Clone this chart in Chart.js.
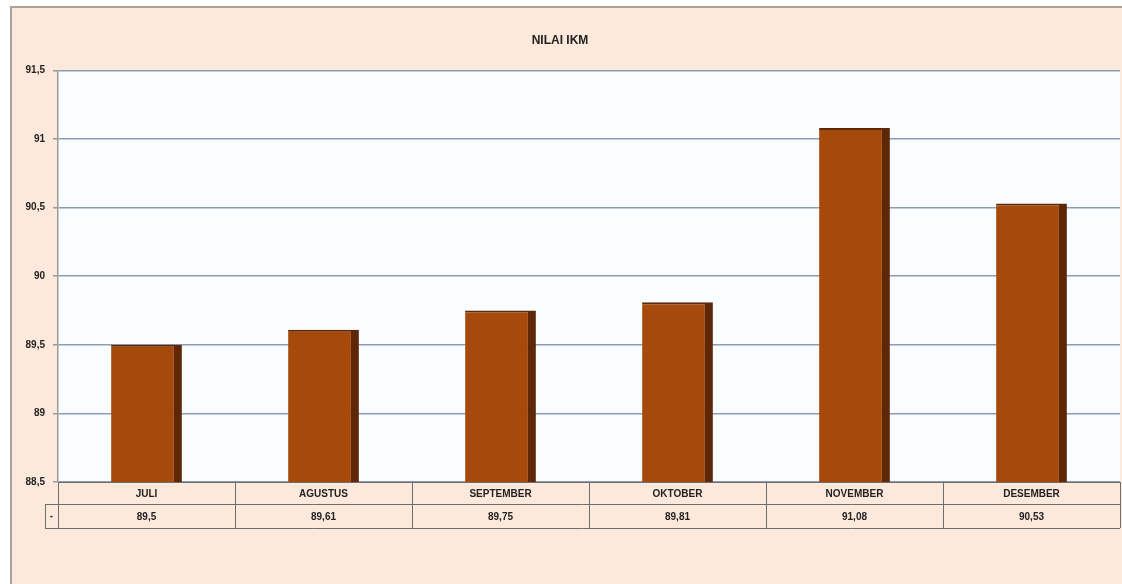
<!DOCTYPE html>
<html>
<head>
    <title>Nilai IKM</title>
    <script src="https://cdn.jsdelivr.net/npm/chart.js"></script>
    <style>
        html, body { margin: 0; padding: 0; background: #fff; overflow: hidden; }
        #wrap { width: 1122px; height: 584px; }
    </style>
</head>
<body>
    <div id="wrap"><canvas id="ikm-chart" width="1122" height="584"></canvas></div>

    <script>
        const months = ['JULI', 'AGUSTUS', 'SEPTEMBER', 'OKTOBER', 'NOVEMBER', 'DESEMBER'];
        const ikmValues = [89.5, 89.61, 89.75, 89.81, 91.08, 90.53];
        const yTicks = { min: 88.5, max: 91.5, step: 0.5 };

        const fmt = v => String(v).replace('.', ',');

        // frame, peach background, white plot area, data table under the axis
        const excelLook = {
            id: 'excelLook',
            beforeDraw(chart) {
                const c = chart.ctx, a = chart.chartArea;
                c.save();
                c.fillStyle = '#ffffff';
                c.fillRect(0, 0, chart.width, chart.height);
                c.fillStyle = '#fce9db';
                c.fillRect(11, 7, chart.width, chart.height);
                c.strokeStyle = '#a8a39c';
                c.lineWidth = 2;
                c.beginPath();
                c.moveTo(11, chart.height + 2);
                c.lineTo(11, 7);
                c.lineTo(chart.width + 2, 7);
                c.stroke();
                c.fillStyle = '#f9fdff';
                c.fillRect(a.left, a.top, a.right - a.left, a.bottom - a.top);
                c.restore();
            },
            afterDraw(chart) {
                const c = chart.ctx, a = chart.chartArea, x = chart.scales.x;
                const row1 = a.bottom + 22, row2 = a.bottom + 46;
                const legLeft = a.left - 13;
                c.save();
                c.strokeStyle = '#6e6e6e';
                c.lineWidth = 1;
                c.beginPath();
                c.moveTo(legLeft, row1 + 0.5); c.lineTo(a.right, row1 + 0.5);
                c.moveTo(legLeft, row2 + 0.5); c.lineTo(a.right, row2 + 0.5);
                c.moveTo(legLeft + 0.5, row1); c.lineTo(legLeft + 0.5, row2);
                c.moveTo(a.left + 0.5, a.bottom); c.lineTo(a.left + 0.5, row2);
                const half = (x.getPixelForTick(1) - x.getPixelForTick(0)) / 2;
                for (let i = 0; i < months.length; i++) {
                    const r = Math.round(x.getPixelForTick(i) + half) + 0.5;
                    c.moveTo(r, a.bottom); c.lineTo(r, row2);
                }
                c.stroke();
                c.fillStyle = '#333';
                c.font = 'bold 10px "Liberation Sans"';
                c.textAlign = 'center';
                c.textBaseline = 'middle';
                c.fillText('-', (legLeft + a.left) / 2, (row1 + row2) / 2);
                c.restore();
            }
        };

        const ctx = document.getElementById('ikm-chart').getContext('2d');
        new Chart(ctx, {
            type: 'bar',
            data: {
                labels: months.map((m, i) => [m, fmt(ikmValues[i])]),
                datasets: [{
                    label: 'NILAI IKM',
                    data: ikmValues,
                    backgroundColor: '#a54a0b',
                    borderColor: '#5e2708',
                    borderWidth: { top: 2, right: 8, bottom: 0, left: 0 },
                    borderSkipped: false,
                    barPercentage: 0.40,
                    categoryPercentage: 1.0
                }]
            },
            options: {
                responsive: false,
                animation: false,
                layout: { padding: { top: 0, right: 2, bottom: 0, left: 0 } },
                plugins: {
                    legend: { display: false },
                    tooltip: { enabled: false },
                    title: {
                        display: true,
                        text: 'NILAI IKM',
                        color: '#222',
                        font: { family: '"Liberation Sans"', size: 12, weight: 'bold' },
                        padding: { top: 33, bottom: 23 }
                    }
                },
                scales: {
                    x: {
                        afterFit(scale) { scale.height = 102; },
                        grid: { display: false },
                        border: { display: true, color: '#6e6e6e', width: 1 },
                        ticks: {
                            color: '#222',
                            padding: -7,
                            maxRotation: 0,
                            font: { family: '"Liberation Sans"', size: 10, weight: 'bold', lineHeight: 2.3 }
                        }
                    },
                    y: {
                        min: yTicks.min,
                        max: yTicks.max,
                        afterFit(scale) { scale.width = 58; },
                        afterBuildTicks(scale) {
                            const t = [];
                            for (let v = yTicks.min; v <= yTicks.max + 1e-9; v += yTicks.step) t.push({ value: v });
                            scale.ticks = t;
                        },
                        grid: { color: '#8f9bb6', lineWidth: 1.5, tickLength: 5, tickColor: '#999' },
                        border: { display: true, color: '#999', width: 1.5 },
                        ticks: {
                            color: '#222',
                            padding: 8,
                            font: { family: '"Liberation Sans"', size: 10, weight: 'bold' },
                            callback: v => fmt(v)
                        }
                    }
                }
            },
            plugins: [excelLook]
        });
    </script>
</body>
</html>
